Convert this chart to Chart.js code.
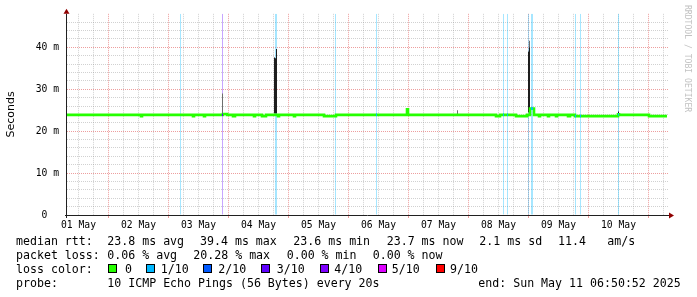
<!DOCTYPE html>
<html>
<head>
<meta charset="utf-8">
<script src="https://cdn.jsdelivr.net/npm/chart.js@4.4.1/dist/chart.umd.min.js"></script>
<style>
  html, body { margin: 0; background: #fff; }
  canvas { display: block; }
</style>
</head>
<body>
<canvas id="c" width="697" height="297"></canvas>
<script>
// time axis in hours since 01 May 00:00
const X_MIN = 7.4, X_MAX = 248.2;
const dayNoon = [12, 36, 60, 84, 108, 132, 156, 180, 204, 228];
const dayLabels = ["01 May", "02 May", "03 May", "04 May", "05 May", "06 May", "07 May", "08 May", "09 May", "10 May"];
const yLabels = ["0  ", "10 m", "20 m", "30 m", "40 m"];

// median rtt (ms), stepped: each value holds until the next hour mark
const medianHours = [7.4, 37.0, 37.4, 57.8, 58.2, 62.2, 62.6, 69.8, 71.4, 73.8, 74.6, 82.2, 82.6, 85.4, 87.0,
  91.8, 92.2, 98.2, 98.6, 110.2, 115.0, 143.4, 143.8, 179.0, 180.6, 187.0, 191.4, 192.6, 194.2, 196.2, 196.6,
  199.8, 200.2, 203.0, 203.4, 207.8, 208.6, 210.6, 227.8, 228.2, 240.2, 247.4];
const medianMs = [23.9, 23.6, 23.9, 23.6, 23.9, 23.6, 23.9, 24.1, 23.9, 23.6, 23.9, 23.6, 23.9, 23.6, 23.9,
  23.6, 23.9, 23.6, 23.9, 23.6, 23.9, 25.2, 23.9, 23.6, 23.9, 23.6, 23.9, 25.4, 23.9, 23.6, 23.9,
  23.6, 23.9, 23.6, 23.9, 23.6, 23.9, 23.6, 24.0, 23.9, 23.6, 23.6];

// packet loss steps (loss out of 10)
const lossHours = [52.8, 69.6, 90.8, 91.2, 114.8, 131.2, 182.0, 183.6, 192.0, 193.2, 193.6, 210.8, 212.8, 228.0];
const lossLevel = [1, 3, 1, 1, 1, 1, 1, 1, 1, 1, 1, 1, 1, 1];

// median pieces drawn in loss colour
const medLossHours = [69.6, 131.2, 182.0, 183.6, 193.2, 193.6, 210.8, 212.8, 228.0];
const medLossMs = [23.9, 23.9, 23.9, 23.9, 25.4, 25.4, 23.6, 23.6, 24.0];
const medLossLevel = [3, 1, 1, 1, 1, 1, 1, 1, 1];

// smoke (ping spread)
const smokeHours = [90.4, 90.8, 91.2, 143.6, 192.0, 192.4, 194.0, 228.0];
const smokeLow = [24.2, 24.2, 24.2, 23.8, 24.5, 24.5, 23.9, 23.9];
const smokeHigh = [37.6, 37.4, 39.6, 25.4, 39.0, 40.0, 25.4, 24.7];
const paleSmokeHours = [69.6, 163.6, 192.4];
const paleSmokeLow = [24.1, 24.0, 40.0];
const paleSmokeHigh = [29.0, 25.0, 41.6];

const lossColors = { 0: "#26ff00", 1: "#00b8ff", 2: "#0059ff", 3: "#5e00ff", 4: "#7e00ff", 5: "#dd00ff", 9: "#ff0000" };
const lossPale = { 1: "rgba(0,184,255,0.35)", 3: "rgba(94,0,255,0.35)" };
const legendLevels = [0, 1, 2, 3, 4, 5, 9];
const legendLabels = ["0", "1/10", "2/10", "3/10", "4/10", "5/10", "9/10"];

const rttStats = ["23.8 ms avg", "39.4 ms max", "23.6 ms min", "23.7 ms now", "2.1 ms sd", "11.4", "am/s"];
const lossStats = ["0.06 % avg", "20.28 % max", "0.00 % min", "0.00 % now"];
const probeText = "10 ICMP Echo Pings (56 Bytes) every 20s";
const endText = "end: Sun May 11 06:50:52 2025";

const GRID = "rgba(140,140,140,0.4)";
const MGRID = "rgba(222,79,79,0.55)";
const MONO = "'DejaVu Sans Mono', monospace";

const gridHours = [];
for (let h = 12; h < X_MAX; h += 6) gridHours.push(h);
const gridMs = [];
for (let v = 0; v <= 48; v += 2) gridMs.push(v);

const overlay = {
    id: "overlay",
    afterDraw(chart) {
        const ctx = chart.ctx, a = chart.chartArea;
        ctx.save();
        // axes
        ctx.strokeStyle = "#202020";
        ctx.lineWidth = 1;
        ctx.beginPath();
        ctx.moveTo(a.left - 0.5, a.top);
        ctx.lineTo(a.left - 0.5, a.bottom + 3);
        ctx.moveTo(a.left - 2, a.bottom + 0.5);
        ctx.lineTo(a.right + 1, a.bottom + 0.5);
        ctx.stroke();
        ctx.fillStyle = "#900000";
        ctx.beginPath();
        ctx.moveTo(a.left - 3.5, a.top);
        ctx.lineTo(a.left + 2.5, a.top);
        ctx.lineTo(a.left - 0.5, a.top - 5);
        ctx.fill();
        ctx.beginPath();
        ctx.moveTo(a.right, a.bottom - 2.5);
        ctx.lineTo(a.right, a.bottom + 3.5);
        ctx.lineTo(a.right + 5, a.bottom + 0.5);
        ctx.fill();

        // side credit
        ctx.save();
        ctx.translate(687, 5);
        ctx.rotate(Math.PI / 2);
        ctx.font = "8.1px " + MONO;
        ctx.fillStyle = "#c2c2c2";
        ctx.textBaseline = "middle";
        ctx.fillText("RRDTOOL / TOBI OETIKER", 0, 0);
        ctx.restore();

        // legend
        ctx.font = "11.6px " + MONO;
        ctx.fillStyle = "#000";
        ctx.textBaseline = "alphabetic";
        const rows = [245.3, 259.3, 273.3, 287.3];
        ctx.fillText("median rtt:", 16, rows[0]);
        [107.3, 200, 293.3, 386.7, 479.3, 558, 607.3].forEach((x, i) => ctx.fillText(rttStats[i], x, rows[0]));
        ctx.fillText("packet loss:", 16, rows[1]);
        [107.3, 193.3, 286.7, 372.7].forEach((x, i) => ctx.fillText(lossStats[i], x, rows[1]));
        ctx.fillText("loss color:", 16, rows[2]);
        const boxX = [108, 146, 203, 261, 320, 378, 436];
        const txtX = [125, 160.7, 218.3, 276.7, 334.3, 391.7, 450];
        legendLevels.forEach((lv, i) => {
            ctx.fillStyle = lossColors[lv];
            ctx.fillRect(boxX[i], 264, 9, 9);
            ctx.strokeStyle = "#000";
            ctx.strokeRect(boxX[i] + 0.5, 264.5, 8, 8);
            ctx.fillStyle = "#000";
            ctx.fillText(legendLabels[i], txtX[i], rows[2]);
        });
        ctx.fillText("probe:", 16, rows[3]);
        ctx.fillText(probeText, 107.3, rows[3]);
        ctx.fillText(endText, 478.3, rows[3]);
        ctx.restore();
    }
};

const barBase = { type: "bar", grouped: false, barThickness: 1, borderWidth: 0, inflateAmount: 0 };

new Chart(document.getElementById("c"), {
    type: "bar",
    data: {
        datasets: [
            {
                ...barBase,
                label: "loss",
                order: 4,
                data: lossHours.map((h, i) => ({ x: h, y: [0, 48], level: lossLevel[i] })),
                backgroundColor: ctx => lossPale[ctx.raw ? ctx.raw.level : 1],
            },
            {
                ...barBase,
                label: "smoke pale",
                order: 3,
                data: paleSmokeHours.map((h, i) => ({ x: h, y: [paleSmokeLow[i], paleSmokeHigh[i]] })),
                backgroundColor: "#6e6e6e",
            },
            {
                ...barBase,
                label: "smoke",
                order: 2,
                data: smokeHours.map((h, i) => ({ x: h, y: [smokeLow[i], smokeHigh[i]] })),
                backgroundColor: "#1e1e1e",
            },
            {
                type: "line",
                label: "median",
                order: 1,
                data: medianHours.map((h, i) => ({ x: h, y: medianMs[i] })),
                borderColor: lossColors[0],
                borderWidth: 2.6,
                stepped: true,
                pointRadius: 0,
                fill: false,
                borderJoinStyle: "miter",
            },
            {
                ...barBase,
                label: "median loss",
                order: 0,
                data: medLossHours.map((h, i) => ({ x: h, y: [medLossMs[i] - 0.3, medLossMs[i] + 0.3], level: medLossLevel[i] })),
                backgroundColor: ctx => lossColors[ctx.raw ? ctx.raw.level : 1],
            },
        ]
    },
    options: {
        responsive: false,
        animation: false,
        layout: { padding: { left: 0, right: 28, top: 13, bottom: 62 } },
        plugins: { legend: { display: false }, tooltip: { enabled: false } },
        scales: {
            x: {
                type: "linear",
                min: X_MIN, max: X_MAX,
                offset: false,
                afterBuildTicks: axis => { axis.ticks = gridHours.map(v => ({ value: v })); },
                afterFit: s => { s.height = 20; },
                grid: {
                    offset: false,
                    drawTicks: true,
                    tickLength: 3,
                    color: c => (c.tick && c.tick.value % 24 === 0) ? MGRID : GRID,
                    tickColor: c => (c.tick && c.tick.value % 24 === 0) ? MGRID : "transparent",
                },
                border: { display: false, dash: [1, 1] },
                ticks: {
                    autoSkip: false, maxRotation: 0, padding: 2,
                    color: "#000",
                    font: { family: MONO, size: 9.7 },
                    callback: v => {
                        const i = dayNoon.indexOf(v);
                        return i >= 0 ? dayLabels[i] : "";
                    }
                }
            },
            y: {
                min: 0, max: 48,
                afterBuildTicks: axis => { axis.ticks = gridMs.map(v => ({ value: v })); },
                afterFit: s => { s.width = 67; },
                grid: {
                    drawTicks: false,
                    color: c => {
                        const v = c.tick ? c.tick.value : 1;
                        if (v === 0 || v === 48) return "transparent";
                        return v % 10 === 0 ? MGRID : GRID;
                    }
                },
                border: { display: false, dash: [1, 1] },
                title: {
                    display: true, text: "Seconds", color: "#000",
                    font: { family: "'DejaVu Sans', sans-serif", size: 11 },
                    padding: { top: 4.6, bottom: 0 }
                },
                ticks: {
                    autoSkip: false, padding: 8, color: "#000",
                    font: { family: MONO, size: 9.7 },
                    callback: v => (v % 10 === 0 && v < 48) ? yLabels[v / 10] : ""
                }
            }
        }
    },
    plugins: [overlay]
});
</script>
</body>
</html>
